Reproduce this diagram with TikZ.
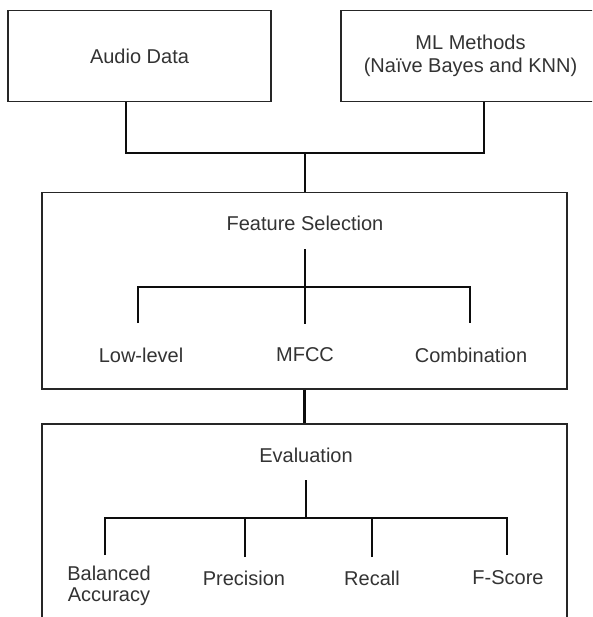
\documentclass[tikz,border=0pt]{standalone}
\usepackage{fontspec}
\setmainfont{Liberation Sans}
\begin{document}
\begin{tikzpicture}[x=1pt,y=-1pt,
  box/.style={draw=black!85, line width=1.4pt, rectangle, inner sep=0pt, fill=white,
    text=black!80, font=\fontsize{20}{23}\selectfont, align=center},
  lbl/.style={text=black!80, font=\fontsize{20}{21}\selectfont, inner sep=0pt, align=center},
  conn/.style={draw=black!95, line width=2.8pt}]
\useasboundingbox (0,0) rectangle (592,617);
\clip (0,0) rectangle (592,617);
% top boxes
\node[box, minimum width=263pt, minimum height=91pt] (audio) at (139.5,56) {Audio Data};
\node[box, minimum width=259pt, minimum height=91pt] (ml) at (470.5,56) {ML Methods\\(Naïve Bayes and KNN)};
% feature selection box
\node[box, minimum width=525pt, minimum height=196.5pt] (feat) at (304.35,290.75) {};
% evaluation box (continues below the page)
\node[box, minimum width=525pt, minimum height=230pt] (eval) at (304.5,539) {};
% helper coordinates
\coordinate (a1) at (126,0);
\coordinate (m1) at (484,0);
\coordinate (j1) at (305,153);
% top connectors
\draw[conn] (a1 |- audio.south) |- (m1 |- j1) -- (m1 |- ml.south);
\draw[conn] (j1) -- (j1 |- feat.north);
% feature selection content
\node[lbl] (fs) at (305,223) {Feature Selection};
\coordinate (fsv) at (305,249);
\coordinate (fsh) at (305,287);
\coordinate (fb1) at (138,323);
\coordinate (fb2) at (305,324);
\coordinate (fb3) at (470,323);
\draw[conn] (fsv) -- (fsh) -- (fb2);
\draw[conn] (fb1) |- (fsh) -| (fb3);
\node[lbl] (low) at (141,355) {Low-level};
\node[lbl] (mfcc) at (305,355) {MFCC};
\node[lbl] (comb) at (471,355) {Combination};
% between boxes
\draw[conn] (feat.south) -- (feat.south |- eval.north);
% evaluation content
\node[lbl] (ev) at (306,455) {Evaluation};
\coordinate (evv) at (306,480);
\coordinate (evh) at (306,518);
\coordinate (eb1) at (105,555);
\coordinate (eb2) at (245,557);
\coordinate (eb3) at (372,557);
\coordinate (eb4) at (507,555);
\draw[conn] (evv) -- (evh);
\draw[conn] (eb1) |- (evh) -| (eb4);
\draw[conn] (eb2) -- (eb2 |- evh);
\draw[conn] (eb3) -- (eb3 |- evh);
\node[lbl] (bal) at (109,586) {Balanced\\Accuracy};
\node[lbl] (prec) at (244,578) {Precision};
\node[lbl] (rec) at (372,578) {Recall};
\node[lbl] (fsc) at (508,578) {F-Score};
\end{tikzpicture}
\end{document}
